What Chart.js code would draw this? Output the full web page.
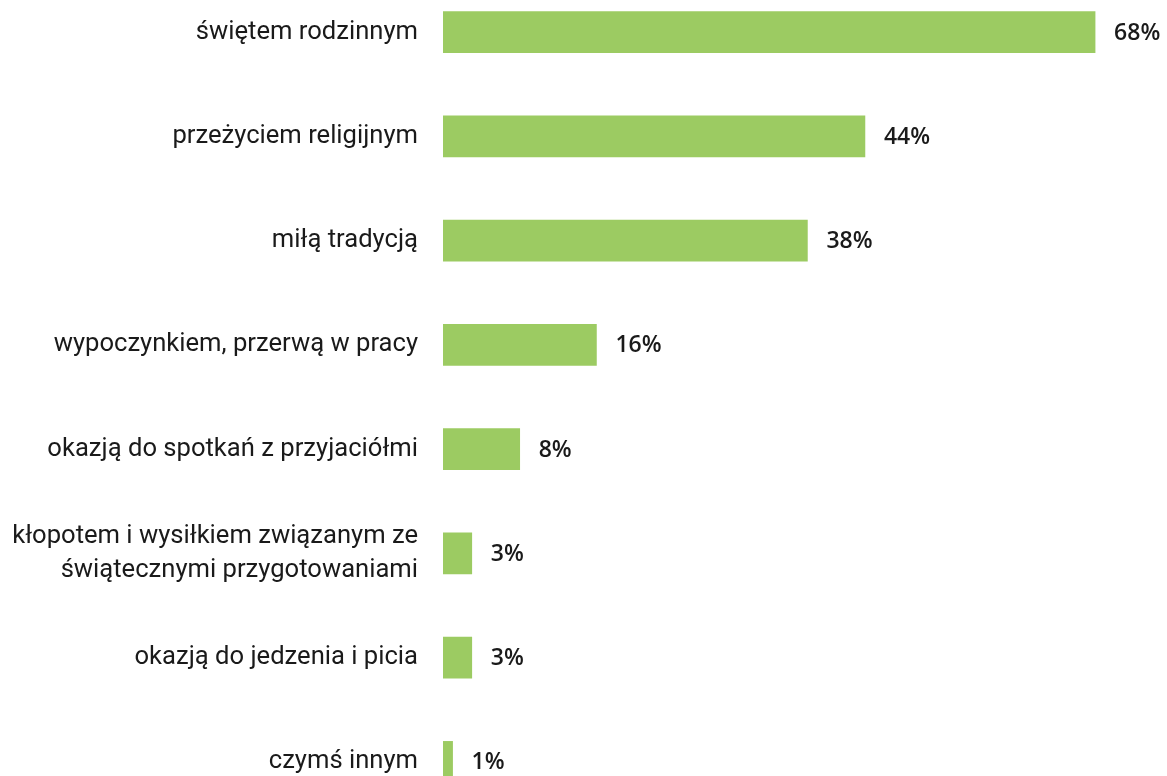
<!DOCTYPE html>
<html>
<head>
<meta charset="utf-8">
<script src="https://cdn.jsdelivr.net/npm/chart.js@4/dist/chart.umd.min.js"></script>
<style>
  html, body { margin: 0; padding: 0; background: #ffffff; overflow: hidden; width: 1167px; height: 776px; }
  #wrap { position: absolute; left: 0; top: -20px; width: 1167px; height: 834px; }
</style>
</head>
<body>
<div id="wrap"><canvas id="c" width="1167" height="834"></canvas></div>
<script>
const categories = [
  "świętem rodzinnym",
  "przeżyciem religijnym",
  "miłą tradycją",
  "wypoczynkiem, przerwą w pracy",
  "okazją do spotkań z przyjaciółmi",
  ["kłopotem i wysiłkiem związanym ze", "świątecznymi przygotowaniami"],
  "okazją do jedzenia i picia",
  "czymś innym"
];
const values = [68, 44, 38, 16, 8, 3, 3, 1];
const valueLabels = ["68%", "44%", "38%", "16%", "8%", "3%", "3%", "1%"];

const valueLabelPlugin = {
  id: 'valueLabels',
  afterDatasetsDraw(chart) {
    const ctx = chart.ctx;
    const meta = chart.getDatasetMeta(0);
    ctx.save();
    ctx.font = '600 23px "Open Sans", Roboto, sans-serif';
    ctx.fillStyle = '#1a1a1a';
    ctx.textAlign = 'left';
    ctx.textBaseline = 'middle';
    meta.data.forEach((bar, i) => {
      ctx.fillText(valueLabels[i], bar.x + 19, bar.y + 1);
    });
    ctx.restore();
  }
};

new Chart(document.getElementById('c'), {
  type: 'bar',
  data: {
    labels: categories,
    datasets: [{
      data: values,
      backgroundColor: '#9ccb62',
      borderWidth: 0,
      barThickness: 41
    }]
  },
  options: {
    indexAxis: 'y',
    responsive: false,
    animation: false,
    layout: { padding: 0 },
    plugins: { legend: { display: false }, tooltip: { enabled: false } },
    scales: {
      x: {
        display: false,
        min: 0,
        max: 75.5
      },
      y: {
        grid: { display: false, drawTicks: false },
        border: { display: false },
        ticks: {
          padding: 25,
          color: '#1a1a1a',
          font: { family: 'Roboto', size: 25.6, lineHeight: 1.33 }
        },
        afterFit(scale) {
          scale.width = 443;
          scale.paddingTop = 0;
          scale.paddingBottom = 0;
        }
      }
    }
  },
  plugins: [valueLabelPlugin]
});
</script>
</body>
</html>
